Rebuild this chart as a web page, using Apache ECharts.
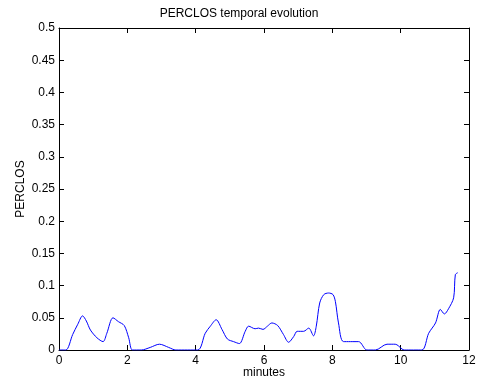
<!DOCTYPE html>
<html>
<head>
<meta charset="utf-8">
<script src="https://cdn.jsdelivr.net/npm/echarts@6/dist/echarts.min.js"></script>
<style>
  html, body { margin: 0; padding: 0; background: #fff; }
  #chart { width: 478px; height: 380px; }
</style>
</head>
<body>
<div id="chart"></div>
<script>
  // time in minutes, PERCLOS value
  var minutes = [0, 0.2, 0.4, 0.55, 0.69, 0.8, 0.92, 1.11, 1.29, 1.4, 1.58, 1.74, 1.91, 2.04, 2.15,
    2.41, 2.67, 2.94, 3.21, 3.42, 4.06, 4.28, 4.43, 4.6, 4.77, 4.93, 5.11, 5.28, 5.45, 5.55,
    5.74, 5.84, 5.97, 6.1, 6.23, 6.4, 6.57, 6.72, 6.87, 6.97, 7.16, 7.31, 7.45, 7.53, 7.63,
    7.75, 7.89, 8.02, 8.09, 8.18, 8.33, 8.77, 9.01, 9.26, 9.6, 9.84, 10.04, 10.1, 10.62, 10.82,
    11.02, 11.16, 11.28, 11.4, 11.55, 11.6, 11.67];
  var perclos = [0, 0, 0.024, 0.04, 0.053, 0.045, 0.031, 0.019, 0.013, 0.026, 0.05, 0.044, 0.038, 0.019, 0,
    0, 0.004, 0.009, 0.004, 0, 0, 0.026, 0.037, 0.047, 0.032, 0.017, 0.013, 0.01, 0.029, 0.037,
    0.033, 0.034, 0.032, 0.037, 0.042, 0.038, 0.024, 0.012, 0.021, 0.029, 0.029, 0.034, 0.022, 0.037, 0.073,
    0.086, 0.0885, 0.086, 0.075, 0.042, 0.013, 0.013, 0, 0, 0.009, 0.009, 0.0015, 0, 0, 0.026,
    0.042, 0.063, 0.056, 0.064, 0.081, 0.117, 0.12];

  var points = minutes.map(function (t, i) { return [t, perclos[i]]; });

  var font = 'Liberation Sans, Arial, sans-serif';
  var chart = echarts.init(document.getElementById('chart'));

  var axisCommon = {
    axisLine: { onZero: false, lineStyle: { color: '#000', width: 1 } },
    axisTick: { inside: true, length: 5, lineStyle: { color: '#000' } },
    splitLine: { show: false }
  };

  chart.setOption({
    animation: false,
    title: {
      text: 'PERCLOS temporal evolution',
      left: 'center',
      top: 3,
      textStyle: { fontFamily: font, fontSize: 12, fontWeight: 'normal', color: '#000' }
    },
    grid: { left: 59, right: 9, top: 28, height: 322, outerBoundsMode: 'none', containLabel: false },
    xAxis: [
      Object.assign({}, axisCommon, {
        type: 'value', min: 0, max: 12, interval: 2, position: 'bottom',
        name: 'minutes', nameLocation: 'middle', nameGap: 17, nameMoveOverlap: false,
        nameTextStyle: { fontFamily: font, fontSize: 12, color: '#000' },
        axisLabel: { fontFamily: font, fontSize: 12, color: '#000', margin: 5 }
      }),
      Object.assign({}, axisCommon, {
        type: 'value', min: 0, max: 12, interval: 2, position: 'top',
        axisLabel: { show: false }
      })
    ],
    yAxis: [
      Object.assign({}, axisCommon, {
        type: 'value', min: 0, max: 0.5, interval: 0.05, position: 'left',
        name: 'PERCLOS', nameLocation: 'middle', nameGap: 32, nameMoveOverlap: false,
        nameTextStyle: { fontFamily: font, fontSize: 12, color: '#000' },
        axisLabel: { fontFamily: font, fontSize: 12, color: '#000', margin: 4,
          formatter: function (v) { return String(+v.toFixed(2)); } }
      }),
      Object.assign({}, axisCommon, {
        type: 'value', min: 0, max: 0.5, interval: 0.05, position: 'right',
        axisLabel: { show: false }
      })
    ],
    series: [{
      type: 'line',
      data: points,
      showSymbol: false,
      smooth: 0.3,
      lineStyle: { color: '#0000ff', width: 1 },
      itemStyle: { color: '#0000ff' }
    }]
  });
</script>
</body>
</html>
